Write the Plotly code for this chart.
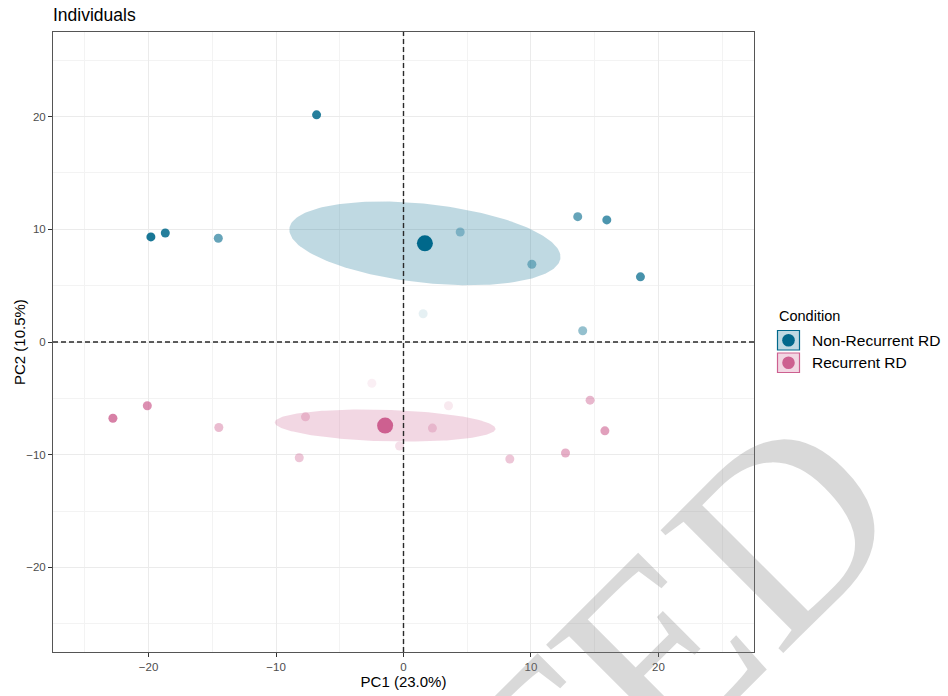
import numpy as np
import plotly.graph_objects as go

# ---------------- data ----------------
groups = ["Non-Recurrent RD", "Recurrent RD"]
group_colors = ["#00688B", "#CD6090"]

nr_pc1 = [-6.82, -19.82, -18.69, -14.53, 4.45, 10.07, 13.67, 15.95, 18.59, 1.54, 14.06]
nr_pc2 = [20.15, 9.32, 9.67, 9.20, 9.76, 6.90, 11.12, 10.83, 5.78, 2.51, 1.00]
nr_alpha = [0.85, 0.9, 0.85, 0.6, 0.35, 0.42, 0.6, 0.7, 0.72, 0.1, 0.42]

r_pc1 = [-22.80, -20.10, -14.49, -7.69, -8.18, -2.48, -0.31, 3.53, 2.27, 8.34, 12.71, 14.64, 15.80]
r_pc2 = [-6.76, -5.66, -7.58, -6.64, -10.27, -3.66, -9.23, -5.66, -7.64, -10.38, -9.85, -5.16, -7.88]
r_alpha = [0.8, 0.7, 0.42, 0.3, 0.36, 0.1, 0.2, 0.14, 0.28, 0.36, 0.5, 0.45, 0.6]

x_title = "PC1 (23.0%)"
y_title = "PC2 (10.5%)"
axis_range = [-27.5, 27.5]
major_ticks = [-20, -10, 0, 10, 20]

FONT = "Liberation Sans, Arial, sans-serif"


def hex_rgba(h, a):
    h = h.lstrip("#")
    r, g, b = int(h[0:2], 16), int(h[2:4], 16), int(h[4:6], 16)
    return f"rgba({r},{g},{b},{a})"


def conf_ellipse(x, y, npts=200):
    # confidence ellipse of the mean (cov / n), level 0.95 (chi2, 2 df)
    x = np.asarray(x, float)
    y = np.asarray(y, float)
    cov = np.cov(x, y) / len(x)
    t = np.sqrt(5.991464547107979)
    sx, sy = np.sqrt(cov[0, 0]), np.sqrt(cov[1, 1])
    r = cov[0, 1] / (sx * sy)
    d = np.arccos(r)
    a = np.linspace(0, 2 * np.pi, npts)
    ex = t * sx * np.cos(a + d / 2) + x.mean()
    ey = t * sy * np.cos(a - d / 2) + y.mean()
    return ex, ey


data = [(nr_pc1, nr_pc2, nr_alpha), (r_pc1, r_pc2, r_alpha)]

fig = go.Figure()

# ellipses
for (px, py, _), col in zip(data, group_colors):
    ex, ey = conf_ellipse(px, py)
    fig.add_trace(go.Scatter(x=ex, y=ey, mode="lines", fill="toself",
                             fillcolor=hex_rgba(col, 0.25),
                             line=dict(width=0, color=hex_rgba(col, 0)),
                             hoverinfo="skip", showlegend=False))

# individuals
for (px, py, al), col, name in zip(data, group_colors, groups):
    fig.add_trace(go.Scatter(x=px, y=py, mode="markers", name=name,
                             marker=dict(color=col, size=9, opacity=al,
                                         line=dict(width=0)),
                             showlegend=False))

# group means
for (px, py, _), col, name in zip(data, group_colors, groups):
    fig.add_trace(go.Scatter(x=[float(np.mean(px))], y=[float(np.mean(py))],
                             mode="markers", name=name + " (mean)",
                             marker=dict(color=col, size=16, line=dict(width=0)),
                             showlegend=False))

# dashed reference lines
fig.add_shape(type="line", xref="x", yref="y domain", x0=0, x1=0, y0=0, y1=1,
              line=dict(color="#2a2a2a", width=1.4, dash="5px,3px"), layer="above")
fig.add_shape(type="line", xref="x domain", yref="y", x0=0, x1=1, y0=0, y1=0,
              line=dict(color="#2a2a2a", width=1.4, dash="5px,3px"), layer="above")

# ---------------- layout ----------------
ML, MR, MT, MB = 53, 194, 32, 44
W, H = 948, 696
PW, PH = W - ML - MR, H - MT - MB


def pxx(p):
    return (p - ML) / PW


def pxy(p):
    return (H - MB - p) / PH


axis_common = dict(
    range=axis_range, tickvals=major_ticks, showgrid=True, automargin=False,
    gridcolor="#EBEBEB", gridwidth=1.1, zeroline=False,
    showline=True, mirror=True, linecolor="#555555", linewidth=1,
    ticks="outside", ticklen=4, tickwidth=1, tickcolor="#333333",
    tickfont=dict(family=FONT, size=11.5, color="#4D4D4D"),
    minor=dict(dtick=5, tick0=-25, showgrid=True, gridcolor="#F3F3F3", gridwidth=1, ticks=""),
)

fig.update_layout(
    width=W, height=H,
    margin=dict(l=ML, r=MR, t=MT, b=MB, pad=0, autoexpand=False),
    paper_bgcolor="white", plot_bgcolor="white",
    title=dict(text="Individuals", x=0, xref="paper", xanchor="left",
               y=1 - 15 / H, yref="container", yanchor="middle",
               font=dict(family=FONT, size=17.5, color="black")),
    xaxis=dict(**axis_common,
               title=dict(text=x_title, standoff=3,
                          font=dict(family=FONT, size=15, color="black"))),
    yaxis=dict(**axis_common),
    showlegend=False,
)

# y axis title
fig.add_annotation(text=y_title, x=pxx(19), y=pxy(342), xref="paper", yref="paper",
                   xanchor="center", yanchor="middle", showarrow=False, textangle=-90,
                   font=dict(family=FONT, size=15, color="black"))

# custom legend (ggplot-style keys)
fig.add_annotation(text="Condition", x=pxx(777), y=pxy(316), xref="paper", yref="paper",
                   xanchor="left", yanchor="middle", showarrow=False,
                   font=dict(family=FONT, size=14.5, color="black"))
key_tops = [330.5, 353]
for i, (name, col) in enumerate(zip(groups, group_colors)):
    top = key_tops[i]
    bot = top + 19.5
    fig.add_shape(type="rect", xref="paper", yref="paper",
                  x0=pxx(777.5), x1=pxx(799.5), y0=pxy(bot), y1=pxy(top),
                  fillcolor=hex_rgba(col, 0.25), line=dict(color=col, width=1.2))
    cy = (top + bot) / 2
    fig.add_shape(type="circle", xref="paper", yref="paper",
                  xsizemode="pixel", ysizemode="pixel",
                  xanchor=pxx(788.5), yanchor=pxy(cy),
                  x0=-6.3, x1=6.3, y0=-6.3, y1=6.3,
                  fillcolor=col, line=dict(width=0))
    fig.add_annotation(text=name, x=pxx(810), y=pxy(cy), xref="paper", yref="paper",
                       xanchor="left", yanchor="middle", showarrow=False,
                       font=dict(family=FONT, size=15.5, color="black"))

# watermark
fig.add_annotation(text="ACCEPTED", x=pxx(365), y=pxy(944), xref="paper", yref="paper",
                   xanchor="center", yanchor="middle", showarrow=False, textangle=-45,
                   font=dict(family="Liberation Serif, Times New Roman, serif", size=265,
                             color="rgba(128,128,128,0.3)"))

fig.write_html("out.html")
